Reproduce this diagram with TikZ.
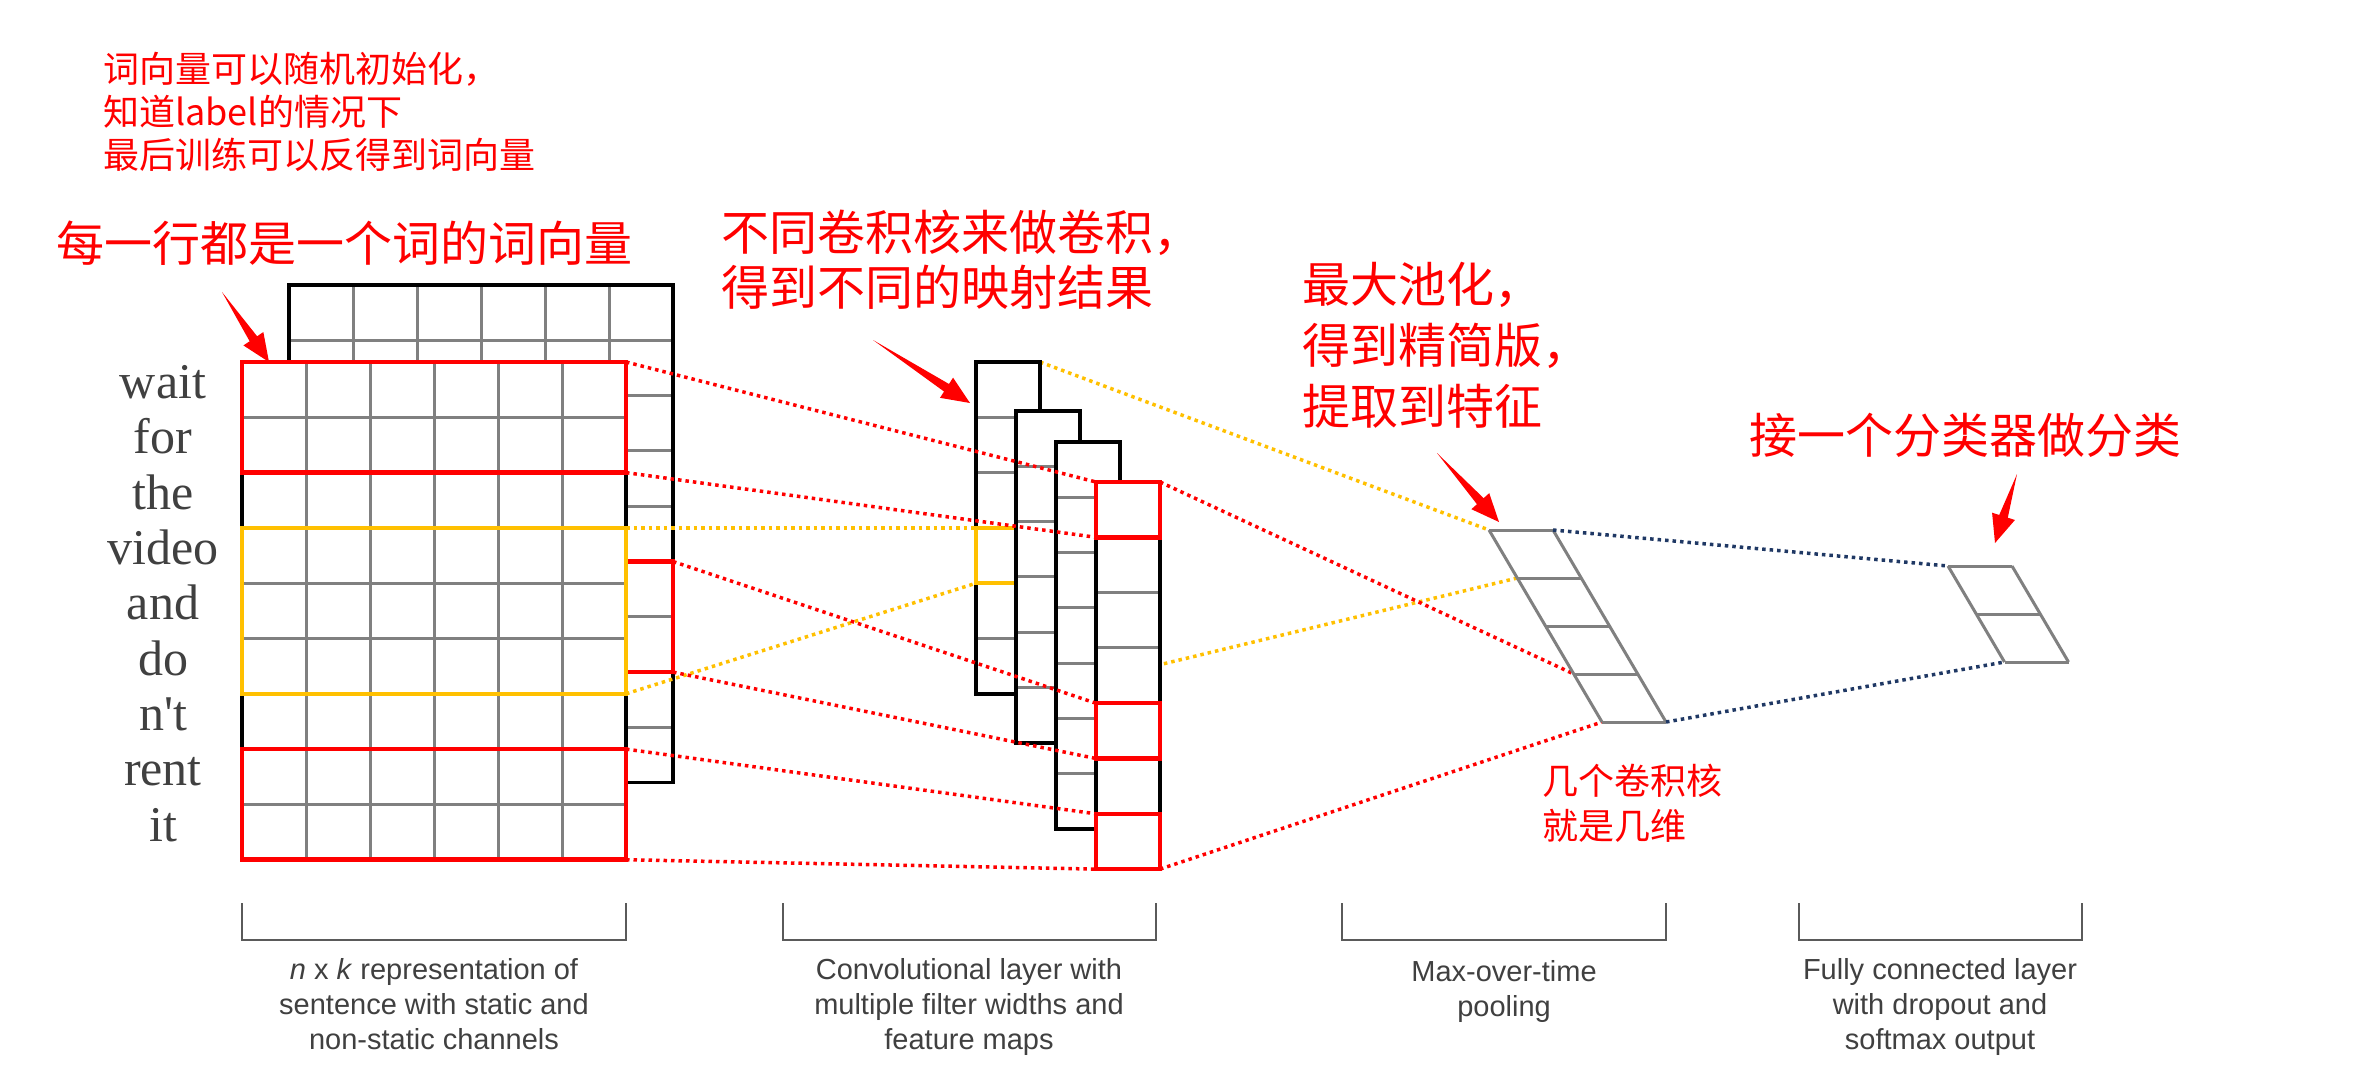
\documentclass[tikz,border=0pt]{standalone}
\usepackage{fontspec}
\usetikzlibrary{calc, backgrounds}
\newfontfamily\cjk{Noto Sans CJK SC}
\newfontfamily\wordfont[Ligatures=TeXOff]{Liberation Serif}
\newfontfamily\capsans{Liberation Sans}
\definecolor{CNred}{HTML}{FF0000}
\definecolor{CNyellow}{HTML}{FFC000}
\definecolor{CNnavy}{HTML}{1F3864}
\definecolor{CNgrid}{HTML}{808080}
\definecolor{CNtext}{HTML}{404040}
\definecolor{CNbrk}{HTML}{5A5A5A}
\newcommand{\bigcn}{\cjk\fontsize{48}{55}\selectfont}
\newcommand{\smallcn}{\cjk\fontsize{36}{43}\selectfont}
\newcommand{\capfont}{\capsans\fontsize{29}{35}\selectfont}
\newcommand{\wordsize}{\wordfont\fontsize{50}{60}\selectfont}
% tapered red pointer, tail #1, tip #2
\newcommand{\pointer}[2]{%
  \coordinate (pb) at ($(#2)!28pt!(#1)$);
  \fill[CNred] (#1) -- ($(pb)!4.5pt!90:(#2)$) -- ($(pb)!12pt!90:(#2)$) -- (#2)
    -- ($(pb)!12pt!-90:(#2)$) -- ($(pb)!4.5pt!-90:(#2)$) -- cycle;}

\begin{document}
\begin{tikzpicture}[x=1pt, y=-1pt,
    grid/.style={CNgrid, line width=3pt},
    frame/.style={black, line width=3.5pt},
    redbox/.style={draw=CNred, line width=4.5pt, inner sep=0pt, outer sep=0pt, anchor=north west},
    yelbox/.style={redbox, draw=CNyellow, line width=4pt},
    mapbox/.style={draw=black, line width=3.5pt, inner sep=0pt, outer sep=0pt, anchor=north west, minimum width=64pt},
    dots/.style={line width=3.5pt, dash pattern=on 3.5pt off 4pt},
    poolline/.style={CNgrid, line width=3pt},
    word/.style={font=\wordsize, text=CNtext, anchor=base},
    note/.style={align=left, anchor=north west, inner sep=0pt, text=CNred},
    caption/.style={font=\capfont, text=CNtext, align=center, anchor=north, inner sep=0pt},
    bracket/.style={CNbrk, line width=2.5pt}]
    \useasboundingbox (0,0) rectangle (2369,1088);

    % back channel (static)
    \fill[white] (289,285) rectangle (673,782.7);
    \foreach \i in {1,...,5} \draw[grid] (289+\i*64,285) -- (289+\i*64,782.7);
    \foreach \j in {1,...,8} \draw[grid] (289,285+\j*55.3) -- (673,285+\j*55.3);
    \draw[frame] (289,285) rectangle (673,782.7);
    \node[redbox, minimum width=384pt, minimum height=110.6pt] (bk56) at (289,561.5) {};

    % front channel (non-static)
    \fill[white] (242,362) rectangle (626,859.7);
    \foreach \i in {1,...,5} \draw[grid] (242+\i*64,362) -- (242+\i*64,859.7);
    \foreach \j in {1,...,8} \draw[grid] (242,362+\j*55.3) -- (626,362+\j*55.3);
    \draw[frame] (242,362) rectangle (626,859.7);
    \node[redbox, minimum width=384pt, minimum height=110.6pt] (fr01) at (242,362) {};
    \node[yelbox, minimum width=384pt, minimum height=165.9pt] (fr35) at (242,527.9) {};
    \node[redbox, minimum width=384pt, minimum height=110.6pt] (fr78) at (242,749.1) {};

    % words, one per row
    \foreach \w [count=\i from 0] in {wait,for,the,video,and,do,n't,rent,it}
      \node[word] (w\i) at (163,398.6+\i*55.3) {\w};

    % feature maps
    \foreach \mx/\my/\n [count=\m] in {976/362/6, 1016/411/6, 1056/442/7, 1096/482/7} {
      \fill[white] (\mx,\my) rectangle ++(64,\n*55.3);
      \foreach \j in {1,...,6} {\ifnum\j<\n \draw[grid] (\mx,\my+\j*55.3) -- ++(64,0);\fi}
      \node[mapbox, minimum height=\n*55.3pt] (map\m) at (\mx,\my) {};
      \ifnum\m=1
        \node[yelbox, minimum width=64pt, minimum height=55.3pt] (m1c3) at (976,527.9) {};
      \fi
    }
    \node[redbox, minimum width=64pt, minimum height=55.3pt] (m4c0) at (1096,482) {};
    \node[redbox, minimum width=64pt, minimum height=55.3pt] (m4c4) at (1096,703.2) {};
    \node[redbox, minimum width=64pt, minimum height=55.3pt] (m4c6) at (1096,813.8) {};

    % windows -> feature maps
    \draw[dots, CNred] (fr01.north east) -- (m4c0.north west);
    \draw[dots, CNred] (fr01.south east) -- (m4c0.south west);
    \draw[dots, CNyellow] (fr35.north east) -- (m1c3.north west);
    \draw[dots, CNyellow] (fr35.south east) -- (m1c3.south west);
    \draw[dots, CNred] (bk56.north east) -- (m4c4.north west);
    \draw[dots, CNred] (bk56.south east) -- (m4c4.south west);
    \draw[dots, CNred] (fr78.north east) -- (m4c6.north west);
    \draw[dots, CNred] (fr78.south east) -- (m4c6.south west);

    % max pooling column
    \coordinate (p0) at (1489,530);
    \coordinate (p1) at (1517.25,578);
    \coordinate (p3) at (1573.75,674);
    \coordinate (p4) at (1602,722);
    \coordinate (pTR) at (1553,530);
    \coordinate (pBR) at (1666,722);
    \foreach \j in {0,...,4} \draw[poolline] (1489+\j*28.25,530+\j*48) -- ++(64,0);
    \draw[poolline] (p0) -- (p4) (pTR) -- (pBR);

    % fully connected output
    \coordinate (f0) at (1948,566);
    \coordinate (f2) at (2004.5,662);
    \coordinate (fTR) at (2012,566);
    \coordinate (fBR) at (2068.5,662);
    \foreach \j in {0,...,2} \draw[poolline] (1948+\j*28.25,566+\j*48) -- ++(64,0);
    \draw[poolline] (f0) -- (f2) (fTR) -- (fBR);
    \draw[dots, CNnavy] (pTR) -- (f0);
    \draw[dots, CNnavy] (pBR) -- (f2);

    % maps -> pooled values, behind the maps
    \begin{scope}[on background layer]
      \fill[white] (0,0) rectangle (2369,1088);
      \draw[dots, CNyellow] (map1.north east) -- (p0);
      \draw[dots, CNyellow] (map1.south east) -- (p1);
      \draw[dots, CNred] (map4.north east) -- (p3);
      \draw[dots, CNred] (map4.south east) -- (p4);
    \end{scope}

    % red notes
    \node[note, font=\smallcn] (initnote) at (103,52) {词向量可以随机初始化，\\知道label的情况下\\最后训练可以反得到词向量};
    \node[note, font=\bigcn] (rownote) at (56,221) {每一行都是一个词的词向量};
    \node[note, font=\bigcn] (convnote) at (721,210) {不同卷积核来做卷积，\\得到不同的映射结果};
    \node[note, font=\cjk\fontsize{48}{61}\selectfont] (poolnote) at (1302,262) {最大池化，\\得到精简版，\\提取到特征};
    \node[note, font=\bigcn] (fcnote) at (1749,413) {接一个分类器做分类};
    \node[note, font=\cjk\fontsize{36}{45}\selectfont] (dimnote) at (1542,764) {几个卷积核\\就是几维};

    % pointers
    \coordinate (t1) at (222,292);   \coordinate (h1) at (269,362);
    \coordinate (t2) at (873,340);   \coordinate (h2) at (970,403);
    \coordinate (t3) at (1437,453);  \coordinate (h3) at (1499,522);
    \coordinate (t4) at (2017,474);  \coordinate (h4) at (1995,543);
    \pointer{t1}{h1}
    \pointer{t2}{h2}
    \pointer{t3}{h3}
    \pointer{t4}{h4}

    % brackets + captions
    \draw[bracket] (242,903) -- (242,940) -- (626,940) -- (626,903);
    \draw[bracket] (783,903) -- (783,940) -- (1156,940) -- (1156,903);
    \draw[bracket] (1342,903) -- (1342,940) -- (1666,940) -- (1666,903);
    \draw[bracket] (1799,903) -- (1799,940) -- (2082,940) -- (2082,903);
    \node[caption] (cap1) at (434,958) {\textit{n} x \textit{k} representation of\\sentence with static and\\non-static channels};
    \node[caption] (cap2) at (969,958) {Convolutional layer with\\multiple filter widths and\\feature maps};
    \node[caption] (cap3) at (1504,960) {Max-over-time\\pooling};
    \node[caption] (cap4) at (1940,958) {Fully connected layer\\with dropout and\\softmax output};
\end{tikzpicture}
\end{document}
